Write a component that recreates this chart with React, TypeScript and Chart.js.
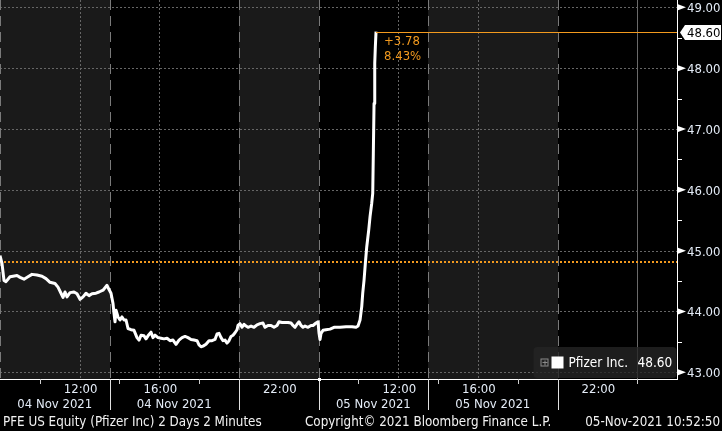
import React, { useEffect, useRef } from "react";
import { Chart, registerables } from "chart.js";

Chart.register(...registerables);

// Trading-hour offset (hours since 04:00 ET on 04 Nov, extended sessions only) and price
const hours = [
  0, 0.1, 0.201, 0.301, 0.502, 0.653, 0.854, 1.005, 1.205, 1.406, 1.607, 1.858, 2.109, 2.31, 2.511,
  2.762, 2.913, 3.064, 3.164, 3.265, 3.365, 3.516, 3.717, 3.867, 4.018, 4.169, 4.319, 4.47, 4.621,
  4.822, 4.972, 5.173, 5.374, 5.475, 5.575, 5.676, 5.726, 5.776, 5.826, 5.927, 6.027, 6.128, 6.228,
  6.329, 6.429, 6.58, 6.73, 6.881, 6.981, 7.082, 7.233, 7.333, 7.433, 7.584, 7.685, 7.785, 7.936,
  8.086, 8.237, 8.388, 8.538, 8.689, 8.84, 8.99, 9.141, 9.292, 9.442, 9.593, 9.744, 9.895, 9.995,
  10.095, 10.196, 10.346, 10.497, 10.648, 10.798, 10.899, 11.0, 11.1, 11.2, 11.301, 11.401, 11.502,
  11.602, 11.703, 11.803, 11.904, 11.954, 12.054, 12.155, 12.255, 12.356, 12.456, 12.607, 12.757,
  12.908, 13.059, 13.209, 13.31, 13.46, 13.611, 13.762, 13.913, 14.013, 14.164, 14.314, 14.465,
  14.616, 14.716, 14.817, 14.917, 15.018, 15.118, 15.219, 15.319, 15.47, 15.62, 15.721, 15.871,
  15.972, 16.022, 16.072, 16.123, 16.223, 16.374, 16.575, 16.775, 17.077, 17.378, 17.68, 17.88,
  17.981, 18.082, 18.167, 18.217, 18.282, 18.348, 18.418, 18.518, 18.584, 18.669, 18.719, 18.749,
  18.785, 18.82, 18.85, 18.885,
];
const prices = [
  44.92, 44.79, 44.51, 44.49, 44.57, 44.58, 44.59, 44.56, 44.53, 44.57, 44.61, 44.6, 44.58, 44.54, 44.48,
  44.46, 44.4, 44.3, 44.23, 44.32, 44.24, 44.31, 44.32, 44.29, 44.2, 44.24, 44.3, 44.26, 44.29,
  44.3, 44.32, 44.35, 44.43, 44.36, 44.3, 44.13, 43.97, 43.83, 44.02, 43.91, 43.86, 43.91, 43.86,
  43.86, 43.72, 43.7, 43.69, 43.57, 43.53, 43.61, 43.6, 43.55, 43.6, 43.66, 43.57, 43.61, 43.57,
  43.56, 43.55, 43.56, 43.52, 43.53, 43.46, 43.53, 43.57, 43.59, 43.57, 43.54, 43.53, 43.52, 43.45,
  43.42, 43.43, 43.46, 43.52, 43.52, 43.54, 43.63, 43.64, 43.57, 43.52, 43.53, 43.48, 43.52,
  43.59, 43.61, 43.65, 43.7, 43.77, 43.8, 43.74, 43.79, 43.76, 43.74, 43.76, 43.74,
  43.78, 43.8, 43.81, 43.74, 43.77, 43.77, 43.74, 43.77, 43.83, 43.82, 43.82, 43.82,
  43.81, 43.77, 43.74, 43.79, 43.83, 43.77, 43.74, 43.76, 43.74, 43.77, 43.77, 43.81,
  43.83, 43.64, 43.54, 43.64, 43.69, 43.7, 43.71, 43.74, 43.74, 43.75, 43.75, 43.74,
  43.76, 43.86, 44.08, 44.3, 44.51, 44.79, 45.06, 45.34, 45.56, 45.78, 45.94, 46.6,
  47.42, 48.08, 48.35, 48.6,
];

const sessionBounds = [0, 5.5, 12, 16, 21.5, 28];
const sessionEnd = 32;
const shadedSessions = [
  [0, 5.5],
  [12, 16],
  [21.5, 28],
];
const timeTickHours = [4, 8, 14, 20, 24, 30];
const timeTickLabels = ["12:00", "16:00", "22:00", "12:00", "16:00", "22:00"];
const gridHours = [4, 8, 20, 24];
const minorTickHours = [2, 6, 10, 18, 22, 26, 32];
const dateLabelSpans = [
  [0, 5.5],
  [5.5, 12],
  [16, 21.5],
  [21.5, 28],
];
const dateLabels = ["04 Nov 2021", "04 Nov 2021", "05 Nov 2021", "05 Nov 2021"];
const prevClose = 44.82;
const lastPrice = 48.6;
const netChange = "+3.78";
const pctChange = "8.43%";
const seriesName = "Pfizer Inc.";
const footerLeft = "PFE US Equity (Pfizer Inc) 2 Days 2 Minutes";
const footerMid = "Copyright\u00A9 2021 Bloomberg Finance L.P.";
const footerRight = "05-Nov-2021 10:52:50";

const FONT = "'DejaVu Sans Condensed', 'Liberation Sans Narrow', 'DejaVu Sans', sans-serif";
const ORANGE = "#f39a1e";
const LABEL = "#e4ecf7";

function hline(ctx: CanvasRenderingContext2D, x0: number, x1: number, y: number) {
  ctx.beginPath();
  ctx.moveTo(x0, y);
  ctx.lineTo(x1, y);
  ctx.stroke();
}
function vline(ctx: CanvasRenderingContext2D, x: number, y0: number, y1: number) {
  ctx.beginPath();
  ctx.moveTo(x, y0);
  ctx.lineTo(x, y1);
  ctx.stroke();
}

const bbgPlugin = {
  id: "bbg",
  beforeDraw(chart: any) {
    const { ctx, chartArea: a, scales } = chart;
    const x = scales.x;
    const y = scales.y;
    ctx.save();
    ctx.fillStyle = "#000";
    ctx.fillRect(0, 0, chart.width, chart.height);
    ctx.fillStyle = "#1a1a1a";
    for (const [s, e] of shadedSessions) {
      const x0 = Math.round(x.getPixelForValue(s));
      const x1 = Math.round(x.getPixelForValue(e));
      ctx.fillRect(x0, a.top, x1 - x0, a.bottom - a.top);
    }
    ctx.lineWidth = 1;
    ctx.strokeStyle = "#666";
    ctx.setLineDash([2, 2]);
    for (const t of y.ticks) {
      const py = Math.round(y.getPixelForValue(t.value)) + 0.5;
      hline(ctx, a.left, a.right, py);
    }
    for (const h of gridHours) {
      const px = Math.round(x.getPixelForValue(h)) + 0.5;
      vline(ctx, px, a.top, a.bottom);
    }
    ctx.strokeStyle = "#7a7a7a";
    ctx.setLineDash([10, 6]);
    for (const h of sessionBounds) {
      const px = Math.round(x.getPixelForValue(h)) + 0.5;
      vline(ctx, px, a.top, a.bottom);
    }
    ctx.setLineDash([]);
    ctx.strokeStyle = "#6a6a6a";
    vline(ctx, Math.round(x.getPixelForValue(sessionEnd)) + 0.5, a.top, a.bottom);
    // previous close
    ctx.strokeStyle = ORANGE;
    ctx.lineWidth = 2;
    ctx.setLineDash([2, 2]);
    const pc = Math.round(y.getPixelForValue(prevClose));
    hline(ctx, a.left, a.right, pc);
    ctx.restore();
  },
  afterDraw(chart: any) {
    const { ctx, chartArea: a, scales } = chart;
    const x = scales.x;
    const y = scales.y;
    ctx.save();
    // last price line
    const lastX = x.getPixelForValue(hours[hours.length - 1]);
    const lastY = Math.round(y.getPixelForValue(lastPrice)) + 0.5;
    ctx.strokeStyle = ORANGE;
    ctx.lineWidth = 1;
    hline(ctx, lastX, a.right, lastY);

    // axis lines
    ctx.strokeStyle = "#fff";
    ctx.lineWidth = 1;
    vline(ctx, a.right + 0.5, 0, a.bottom + 1);
    hline(ctx, 0, a.right + 1, a.bottom + 0.5);

    // y major triangles, labels & minor ticks
    ctx.font = `13px ${FONT}`;
    ctx.textBaseline = "middle";
    ctx.textAlign = "left";
    for (const t of y.ticks) {
      const py = y.getPixelForValue(t.value);
      ctx.fillStyle = "#fff";
      ctx.beginPath();
      ctx.moveTo(a.right + 1, py - 3);
      ctx.lineTo(a.right + 9, py);
      ctx.lineTo(a.right + 1, py + 3);
      ctx.closePath();
      ctx.fill();
      ctx.fillStyle = LABEL;
      ctx.fillText(Number(t.value).toFixed(2), a.right + 10, py + 1.5);
      const half = t.value + 0.5;
      if (half < y.max) {
        const ph = Math.round(y.getPixelForValue(half)) + 0.5;
        hline(ctx, a.right, a.right + 5, ph);
      }
    }

    // x minor ticks
    ctx.strokeStyle = "#cfcfcf";
    for (const h of minorTickHours) {
      const px = Math.round(x.getPixelForValue(h)) + 0.5;
      vline(ctx, px, a.bottom, a.bottom + 5);
    }
    // session separators under axis
    ctx.strokeStyle = "#e0e0e0";
    for (const h of sessionBounds.slice(1)) {
      const px = Math.round(x.getPixelForValue(h)) + 0.5;
      vline(ctx, px, a.bottom, a.bottom + 31);
    }
    ctx.fillStyle = "#fff";
    ctx.fillRect(Math.round(x.getPixelForValue(16)) - 1, a.bottom - 1, 3, 3);

    // x labels
    ctx.font = `13px ${FONT}`;
    ctx.fillStyle = LABEL;
    ctx.textAlign = "center";
    ctx.textBaseline = "middle";
    timeTickHours.forEach((h, i) => {
      ctx.fillText(timeTickLabels[i], x.getPixelForValue(h) + 1, a.bottom + 11);
    });
    dateLabelSpans.forEach(([s, e], i) => {
      const cx = (x.getPixelForValue(s) + x.getPixelForValue(e)) / 2;
      ctx.fillText(dateLabels[i], cx, a.bottom + 26);
    });

    // footer
    ctx.fillStyle = "#f2f2f2";
    ctx.font = `13.3px ${FONT}`;
    const fy = a.bottom + 43.5;
    ctx.textAlign = "left";
    ctx.fillText(footerLeft, 3, fy);
    ctx.fillText(footerMid, 305, fy);
    ctx.textAlign = "right";
    ctx.fillText(footerRight, chart.width - 2, fy);

    // change annotation
    ctx.fillStyle = ORANGE;
    ctx.textAlign = "left";
    ctx.font = `13px ${FONT}`;
    ctx.fillText(netChange, lastX + 8, lastY + 9);
    ctx.fillText(pctChange, lastX + 8, lastY + 24);

    // price tag on axis
    const tagL = a.right + 3;
    ctx.fillStyle = "#fff";
    ctx.beginPath();
    ctx.moveTo(tagL, lastY);
    ctx.lineTo(tagL + 5, lastY - 7.5);
    ctx.lineTo(chart.width - 1, lastY - 7.5);
    ctx.lineTo(chart.width - 1, lastY + 7.5);
    ctx.lineTo(tagL + 5, lastY + 7.5);
    ctx.closePath();
    ctx.fill();
    ctx.fillStyle = "#000";
    ctx.font = `13px ${FONT}`;
    ctx.fillText(lastPrice.toFixed(2), a.right + 10, lastY + 1);

    // legend box
    const bw = 143;
    const bh = 31;
    const bx = a.right - bw - 0.5;
    const by = a.bottom - bh - 1;
    ctx.fillStyle = "rgba(36,36,36,0.8)";
    ctx.beginPath();
    ctx.roundRect(bx, by, bw, bh, 4);
    ctx.fill();
    const cy = by + bh / 2;
    // expand icon
    ctx.strokeStyle = "#8a8a8a";
    ctx.lineWidth = 1;
    ctx.strokeRect(bx + 7.5, cy - 3.5, 7, 7);
    hline(ctx, bx + 9, bx + 14, cy + 0);
    vline(ctx, bx + 11.5, cy - 2, cy + 3);
    ctx.fillStyle = "#fff";
    ctx.fillRect(bx + 18, cy - 6, 12, 12);
    ctx.font = `13.5px ${FONT}`;
    ctx.textAlign = "left";
    ctx.fillText(seriesName, bx + 35, cy + 1);
    ctx.fillText(lastPrice.toFixed(2), bx + 104, cy + 1);
    ctx.restore();
  },
};

export default function App() {
  const ref = useRef<HTMLCanvasElement>(null);
  useEffect(() => {
    Chart.defaults.font.family = FONT;
    const data = hours.map((h, i) => ({ x: h, y: prices[i] }));
    const chart = new Chart(ref.current as HTMLCanvasElement, {
      type: "line",
      data: {
        datasets: [
          {
            label: seriesName,
            data,
            borderColor: "#ffffff",
            borderWidth: 3,
            pointRadius: 0,
            tension: 0,
            borderJoinStyle: "round",
          },
        ],
      },
      options: {
        responsive: false,
        animation: false,
        devicePixelRatio: 1,
        events: [],
        layout: { padding: 0, autoPadding: false },
        plugins: { legend: { display: false }, tooltip: { enabled: false } },
        scales: {
          x: {
            type: "linear",
            min: 0,
            max: 34,
            grid: { display: false },
            border: { display: false },
            ticks: { display: false },
            afterFit: (s: any) => {
              s.height = 52;
              s.paddingLeft = 0;
              s.paddingRight = 0;
            },
          },
          y: {
            type: "linear",
            position: "right",
            min: 42.89,
            max: 49.12,
            grid: { display: false },
            border: { display: false },
            ticks: {
              display: false,
              stepSize: 1,
              includeBounds: false,
            },
            afterFit: (s: any) => {
              s.width = 45;
              s.paddingTop = 0;
              s.paddingBottom = 0;
            },
          },
        },
      },
      plugins: [bbgPlugin],
    } as any);
    return () => chart.destroy();
  }, []);
  return (
    <div style={{ position: "fixed", left: 0, top: 0, width: 722, height: 431, background: "#000" }}>
      <canvas ref={ref} width={722} height={431} style={{ display: "block", width: 722, height: 431 }} />
    </div>
  );
}
